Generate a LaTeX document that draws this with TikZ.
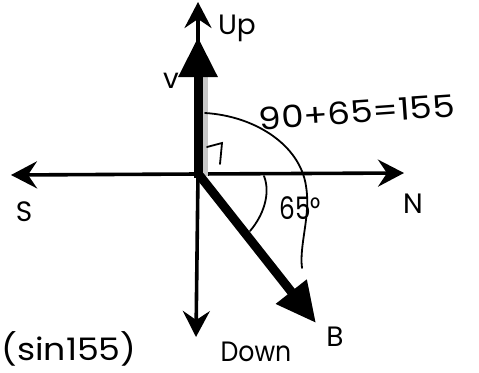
\documentclass[tikz,border=0pt]{standalone}
\usepackage{fontspec}
\usepackage{graphicx}
\setmainfont{Poppins}
\usetikzlibrary{arrows.meta}
\tikzset{
  axis/.style={line width=3.6pt, -{Stealth[length=26pt,width=27pt,inset=9pt]}},
  vecthick/.style={line width=9pt, -{Triangle[length=40pt,width=37pt]}},
  arcline/.style={line width=1.8pt, line cap=round},
  lbl/.style={inner sep=0pt, font=\fontsize{28}{28}\selectfont},
  hand/.style={inner sep=0pt, font=\fontsize{31}{31}\selectfont}
}
\begin{document}
\begin{tikzpicture}[x=1pt,y=-1pt]
\useasboundingbox (0,0) rectangle (479,372);
\fill[white] (0,0) rectangle (479,372);
% coordinates
\coordinate (O) at (198,174);
\coordinate (upT) at (198,2);
\coordinate (dnT) at (196,337);
\coordinate (nT) at (404,173);
\coordinate (sT) at (11,175);
\coordinate (vB) at (198,178);
\coordinate (vT) at (198,37);
\coordinate (bT) at (316,323);
\coordinate (O2) at (200,176);
% axes
\draw[axis] (O) -- (upT);
\draw[axis] (O) -- (dnT);
\draw[axis] (O) -- (nT);
\draw[axis] (O) -- (sT);
% vectors
\fill[black!22] (203,72) rectangle (208,176);
\draw[vecthick] (vB) -- (vT);
\draw[vecthick] (O2) -- (bT);
% right angle mark
\coordinate (ra1) at (207,147);
\coordinate (ra2) at (222,143);
\coordinate (ra3) at (220,164);
\draw[arcline] (ra1) -- (ra2) -- (ra3);
% 65 degree arc
\coordinate (a1) at (264,176);
\coordinate (a2) at (250,231);
\draw[arcline] (a1) .. controls (271,194) and (263,216) .. (a2);
% 155 degree arc
\coordinate (b1) at (205,113);
\coordinate (b2) at (306,186);
\coordinate (b3) at (302,268);
\draw[arcline] (b1) .. controls (255,116) and (300,145) .. (b2)
  .. controls (311,215) and (299,245) .. (b3);
% labels
\node[lbl] (up) at (237,28) {Up};
\node[lbl] (v) at (171,81) {v};
\node[lbl] (n) at (413,204) {N};
\node[lbl] (s) at (24,212) {S};
\node[lbl] (b) at (335,337) {B};
\node[lbl] (down) at (256,352) {\scalebox{0.9}[1]{Down}};
\node[hand] (ang) at (300,208) {\scalebox{0.8}[1]{65°}};
\node[hand, rotate=4] (sum) at (357,112) {\scalebox{1.15}[1]{90+65=155}};
\node[hand] (sin) at (69,349) {\scalebox{1.12}[1]{(sin155)}};
\end{tikzpicture}
\end{document}
